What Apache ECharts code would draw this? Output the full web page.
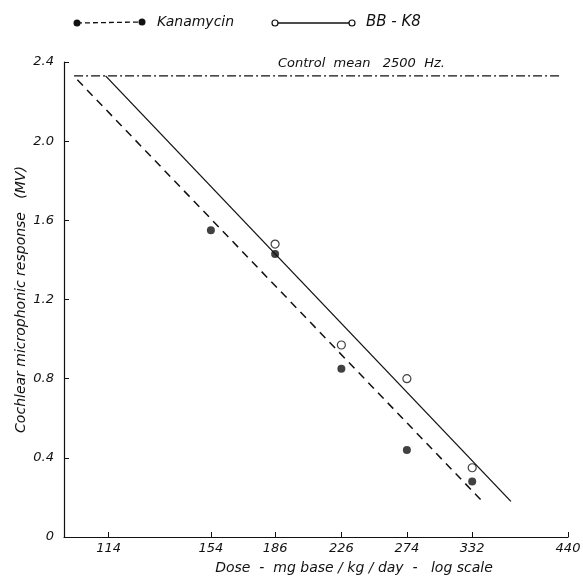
<!DOCTYPE html>
<html>
<head>
<meta charset="utf-8">
<script src="https://cdn.jsdelivr.net/npm/echarts@6/dist/echarts.min.js"></script>
<style>
html,body{margin:0;padding:0;background:#fff;}
#chart{width:583px;height:578px;}
</style>
</head>
<body>
<div id="chart"></div>
<script>
// doses (mg base/kg/day) and responses (MV)
const kanaDose = [154, 186, 226, 274, 332];
const kanaResp = [1.55, 1.43, 0.85, 0.44, 0.28];
const bbDose = [186, 226, 274, 332];
const bbResp = [1.48, 0.97, 0.80, 0.35];
// fitted lines (end points)
const kanaFitDose = [104, 344];
const kanaFitResp = [2.31, 0.17];
const bbFitDose = [113, 372];
const bbFitResp = [2.33, 0.18];
// control mean
const ctrlDose = [103, 430];
const ctrlResp = [2.33, 2.33];
const xTicks = [114, 154, 186, 226, 274, 332, 440];

const font = 'DejaVu Sans';
const ink = '#111';
const lg = Math.log10;
const pairs = (xs, ys) => xs.map((x, i) => [lg(x), ys[i]]);

let chart = echarts.init(document.getElementById('chart'));
chart.setOption({
  animation: false,
  grid: {left: 64, right: 15, top: 62, bottom: 41, outerBoundsMode: 'none', containLabel: false},
  xAxis: {
    type: 'value',
    min: 2,
    max: lg(440),
    name: 'Dose  -  mg base / kg / day  -   log scale',
    nameLocation: 'middle',
    nameGap: 24,
    nameMoveOverlap: false,
    nameTextStyle: {fontFamily: font, fontStyle: 'italic', fontSize: 14, color: ink, padding: [0, 0, 0, 76]},
    splitLine: {show: false},
    axisLine: {lineStyle: {color: ink, width: 1.2}},
    axisTick: {inside: true, length: 5, customValues: xTicks.map(lg), lineStyle: {color: ink}},
    axisLabel: {
      customValues: xTicks.map(lg),
      formatter: v => String(Math.round(Math.pow(10, v))),
      fontFamily: font, fontStyle: 'italic', fontSize: 13, color: ink, margin: 5
    }
  },
  yAxis: {
    type: 'value',
    min: 0,
    max: 2.4,
    interval: 0.4,
    name: 'Cochlear microphonic response   (MV)',
    nameLocation: 'middle',
    nameGap: 36,
    nameMoveOverlap: false,
    nameTextStyle: {fontFamily: font, fontStyle: 'italic', fontSize: 14, color: ink},
    splitLine: {show: false},
    axisLine: {lineStyle: {color: ink, width: 1.2}},
    axisTick: {inside: true, length: 5, lineStyle: {color: ink}},
    axisLabel: {
      formatter: v => v === 0 ? '0' : v.toFixed(1),
      fontFamily: font, fontStyle: 'italic', fontSize: 13, color: ink, margin: 10
    }
  },
  graphic: [
    {type: 'line', shape: {x1: 77, y1: 23, x2: 142, y2: 22}, style: {stroke: ink, lineWidth: 1.3, lineDash: [5, 3]}},
    {type: 'circle', shape: {cx: 77, cy: 23, r: 3.5}, style: {fill: ink}},
    {type: 'circle', shape: {cx: 142, cy: 22, r: 3.5}, style: {fill: ink}},
    {type: 'text', left: 157, top: 15, style: {text: 'Kanamycin', font: 'italic 14px "DejaVu Sans"', fill: ink}},
    {type: 'line', shape: {x1: 275, y1: 23, x2: 352, y2: 23}, style: {stroke: ink, lineWidth: 1.3}},
    {type: 'circle', shape: {cx: 275, cy: 23, r: 3}, style: {fill: '#fff', stroke: ink, lineWidth: 1.2}},
    {type: 'circle', shape: {cx: 352, cy: 23, r: 3}, style: {fill: '#fff', stroke: ink, lineWidth: 1.2}},
    {type: 'text', left: 366, top: 15, style: {text: 'BB - K8', font: 'italic 15px "DejaVu Sans"', fill: ink}},
    {type: 'text', left: 278, top: 57, style: {text: 'Control  mean   2500  Hz.', font: 'italic 13px "DejaVu Sans"', fill: ink}}
  ],
  series: [
    {
      name: 'Control', type: 'line', data: pairs(ctrlDose, ctrlResp),
      showSymbol: false, silent: true,
      lineStyle: {color: ink, width: 1.2, type: [9, 3, 2, 3]}
    },
    {
      name: 'Kanamycin fit', type: 'line', data: pairs(kanaFitDose, kanaFitResp),
      showSymbol: false, silent: true,
      lineStyle: {color: ink, width: 1.5, type: [8, 6]}
    },
    {
      name: 'BB-K8 fit', type: 'line', data: pairs(bbFitDose, bbFitResp),
      showSymbol: false, silent: true,
      lineStyle: {color: ink, width: 1.3}
    },
    {
      name: 'Kanamycin', type: 'scatter', data: pairs(kanaDose, kanaResp),
      symbol: 'circle', symbolSize: 8,
      itemStyle: {color: ink}
    },
    {
      name: 'BB-K8', type: 'scatter', data: pairs(bbDose, bbResp),
      symbol: 'circle', symbolSize: 8,
      itemStyle: {color: '#fff', borderColor: ink, borderWidth: 1.2}
    }
  ]
});
</script>
</body>
</html>
